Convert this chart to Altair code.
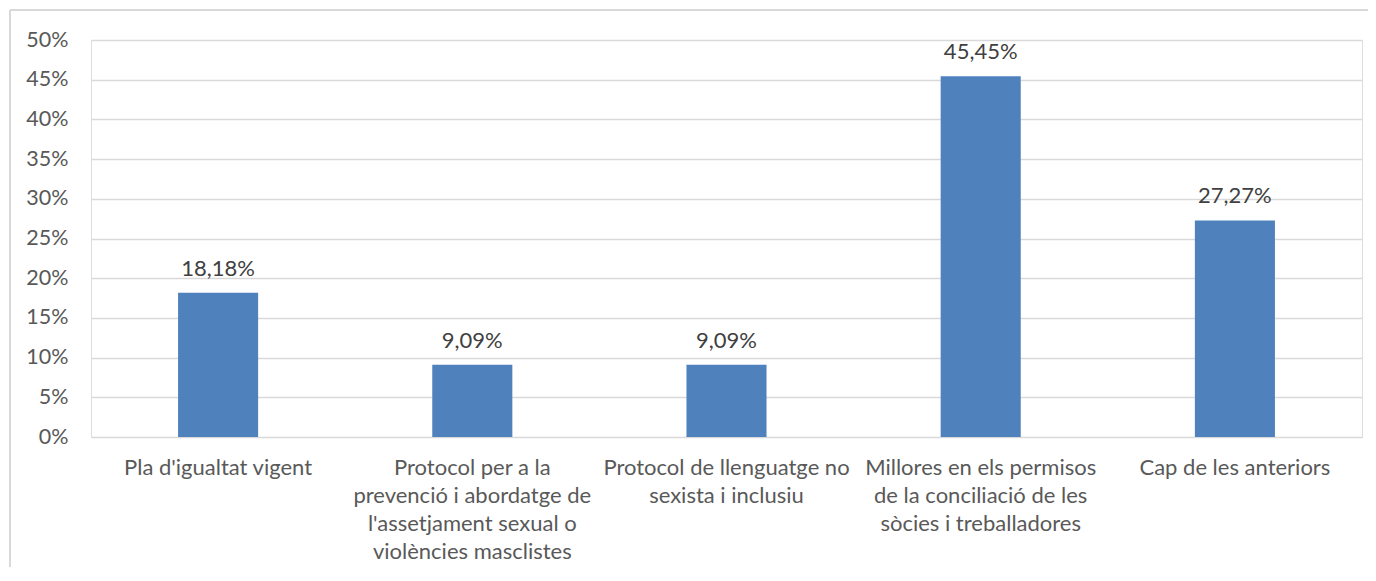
import altair as alt
import pandas as pd

categories = [
    "Pla d'igualtat vigent",
    "Protocol per a la\nprevenció i abordatge de\nl'assetjament sexual o\nviolències masclistes",
    "Protocol de llenguatge no\nsexista i inclusiu",
    "Millores en els permisos\nde la conciliació de les\nsòcies i treballadores",
    "Cap de les anteriors",
]
values = [18.18, 9.09, 9.09, 45.45, 27.27]

df = pd.DataFrame({"cat": categories, "pct": values})

FONT = "Lato"
FS = 22
TXT = "#595959"
GRID = "#d9d9d9"

yaxis = alt.Axis(format=".0%", tickCount=10, labelOverlap=False,
                 labelFont=FONT, labelFontSize=21.5, labelColor=TXT,
                 labelPadding=23, ticks=False, domain=False,
                 gridColor=GRID, gridWidth=1.5)
yscale = alt.Scale(domain=[0, 0.5], nice=False)

base = alt.Chart(df).transform_calculate(
    frac="datum.pct / 100",
    lab="replace(format(datum.pct, '.2f'), '.', ',') + '%'",
)

bars = base.mark_bar(color="#4F81BD").encode(
    x=alt.X("cat:N", sort=None, title=None,
            scale=alt.Scale(paddingInner=0.685, paddingOuter=0.3425),
            axis=alt.Axis(labelExpr="split(datum.label, '\\n')", labelAngle=0,
                          labelFont=FONT, labelFontSize=FS, labelColor=TXT,
                          labelLimit=400, labelLineHeight=28.3, labelPadding=20,
                          labelBaseline="top",
                          ticks=False, domain=False)),
    y=alt.Y("frac:Q", title=None, scale=yscale, axis=yaxis),
)

text = base.mark_text(baseline="bottom", dy=-12, font=FONT, fontSize=FS, color="#404040").encode(
    x=alt.X("cat:N", sort=None),
    y=alt.Y("frac:Q", scale=yscale),
    text="lab:N",
)

frame_top = alt.Chart(df).mark_rule(color=GRID, strokeWidth=2).encode(
    x=alt.value(-81), x2=alt.value(1290), y=alt.value(-30)
)
frame_left = alt.Chart(df).mark_rule(color=GRID, strokeWidth=2).encode(
    x=alt.value(-81), y=alt.value(-30), y2=alt.value(545)
)

chart = alt.layer(frame_top, frame_left, bars, text).properties(
    width=1271, height=397,
    autosize=alt.AutoSizeParams(type="none"),
    padding={"left": 83, "top": 32, "right": 6, "bottom": 130},
).configure_view(stroke=None).configure(background="white")

chart.save("out.html", embed_options={"renderer": "svg", "actions": False})
